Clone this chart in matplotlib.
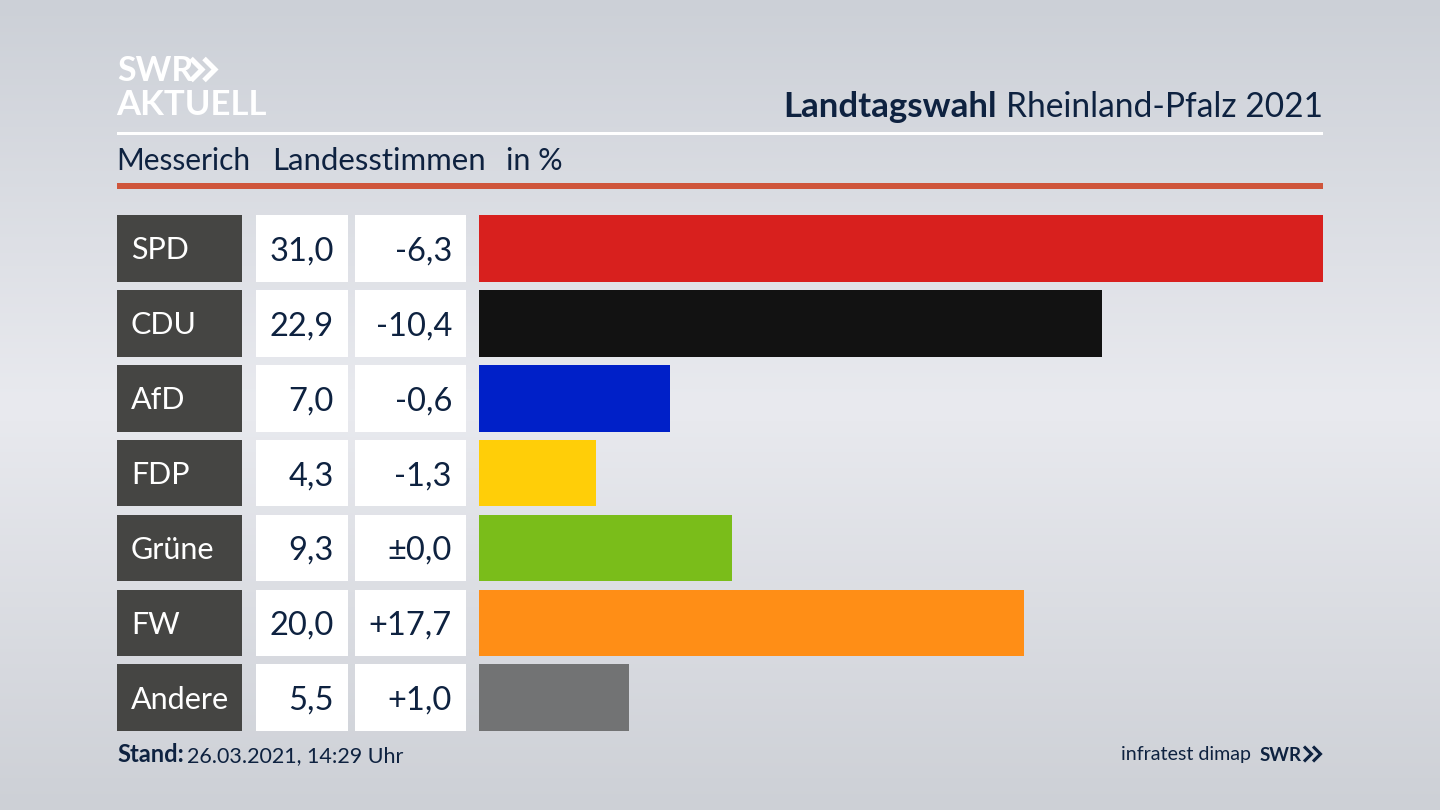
import numpy as np
import matplotlib
matplotlib.use("Agg")
import matplotlib.pyplot as plt
from matplotlib.colors import LinearSegmentedColormap
from matplotlib.patches import Rectangle

parties = ["SPD", "CDU", "AfD", "FDP", "Grüne", "FW", "Andere"]
shares = [31.0, 22.9, 7.0, 4.3, 9.3, 20.0, 5.5]
changes = ["-6,3", "-10,4", "-0,6", "-1,3", "±0,0", "+17,7", "+1,0"]
colors = ["#d8201e", "#121212", "#0020c8", "#ffce08", "#7abd1a", "#ff8e16", "#727374"]

title_bold = "Landtagswahl"
title_rest = "Rheinland-Pfalz 2021"
sub_labels = ["Messerich", "Landesstimmen", "in %"]
stand_bold = "Stand:"
stand_rest = "26.03.2021, 14:29 Uhr"

W, H = 1440, 810
NAVY = "#0e2240"
FONT = "Lato"
plt.rcParams["font.family"] = [FONT, "DejaVu Sans"]

fig = plt.figure(figsize=(W / 100, H / 100), dpi=100)
bg = fig.add_axes([0, 0, 1, 1])
bg.set_xlim(0, W)
bg.set_ylim(H, 0)
bg.axis("off")

# background gradient
cmap = LinearSegmentedColormap.from_list(
    "bg", [(0, "#ccd0d7"), (0.5, "#e9eaef"), (1, "#cdd0d6")])
grad = np.linspace(0, 1, 256).reshape(-1, 1)
bg.imshow(grad, extent=[0, W, H, 0], aspect="auto", cmap=cmap, zorder=0)


def chevrons(x, cy, half, step, lw, color):
    """Two logo chevrons, drawn as lines."""
    for dx in (0, step):
        bg.plot([x + dx, x + dx + half, x + dx], [cy - half, cy, cy + half],
                color=color, lw=lw, solid_joinstyle="miter",
                solid_capstyle="butt", zorder=3)


# header
bg.text(117, 81, "SWR", fontsize=24.5, fontweight="bold", color="white",
        va="baseline", ha="left", zorder=3)
chevrons(191, 69.5, 11, 13, 3.6, "white")
bg.text(116, 115, "AKTUELL", fontsize=25, fontweight="bold", color="white",
        va="baseline", ha="left", zorder=3)

bg.text(1323, 117, title_rest, fontsize=24.15, color=NAVY, ha="right",
        va="baseline", zorder=3)
bg.text(997, 117, title_bold, fontsize=25.1, fontweight="bold", color=NAVY,
        ha="right", va="baseline", zorder=3)

bg.add_patch(Rectangle((117, 132), 1206, 3, color="white", lw=0, zorder=2))
bg.add_patch(Rectangle((117, 183), 1206, 6, color="#cf553b", lw=0, zorder=2))

for x, s, fs in zip([116, 272, 506], sub_labels, [21.5, 22.4, 22]):
    bg.text(x, 170, s, fontsize=fs, color=NAVY, ha="left", va="baseline", zorder=3)

# rows
row_top, row_step, row_h = 215.0, 74.9, 66.7
for i, (p, s, c) in enumerate(zip(parties, shares, changes)):
    y = row_top + i * row_step
    cy = y + row_h / 2
    bg.add_patch(Rectangle((117, y), 124.5, row_h, color="#454543", lw=0, zorder=2))
    bg.add_patch(Rectangle((256, y), 92, row_h, color="white", lw=0, zorder=2))
    bg.add_patch(Rectangle((355, y), 111, row_h, color="white", lw=0, zorder=2))
    bg.text(131, cy + 11, p, fontsize=22, color="white", ha="left", va="baseline", zorder=3)
    bg.text(334, cy + 12, f"{s:.1f}".replace(".", ","), fontsize=23.5, color=NAVY,
            ha="right", va="baseline", zorder=3)
    bg.text(452, cy + 12, c, fontsize=23.5, color=NAVY, ha="right", va="baseline", zorder=3)

# bars
x0, x1 = 479, 1323
ytop = row_top + row_h / 2 - row_step / 2
ybot = ytop + row_step * len(parties)
ax = fig.add_axes([x0 / W, 1 - ybot / H, (x1 - x0) / W, (ybot - ytop) / H])
ax.patch.set_alpha(0)
ax.barh(range(len(parties)), shares, height=row_h / row_step, color=colors)
ax.set_xlim(0, max(shares))
ax.set_ylim(len(parties) - 0.5, -0.5)
ax.axis("off")

# footer
bg.text(117, 762, stand_bold, fontsize=17, fontweight="bold", color=NAVY,
        ha="left", va="baseline", zorder=3)
bg.text(187, 762, stand_rest, fontsize=15.5, color=NAVY, ha="left", va="baseline", zorder=3)
bg.text(1251, 760, "infratest dimap", fontsize=14.1, color=NAVY, ha="right",
        va="baseline", zorder=3)
bg.text(1302, 761, "SWR", fontsize=13.5, fontweight="bold", color=NAVY, ha="right",
        va="baseline", zorder=3)
chevrons(1304, 754, 7.5, 9, 2.2, NAVY)

fig.savefig("out.png", dpi=100)
